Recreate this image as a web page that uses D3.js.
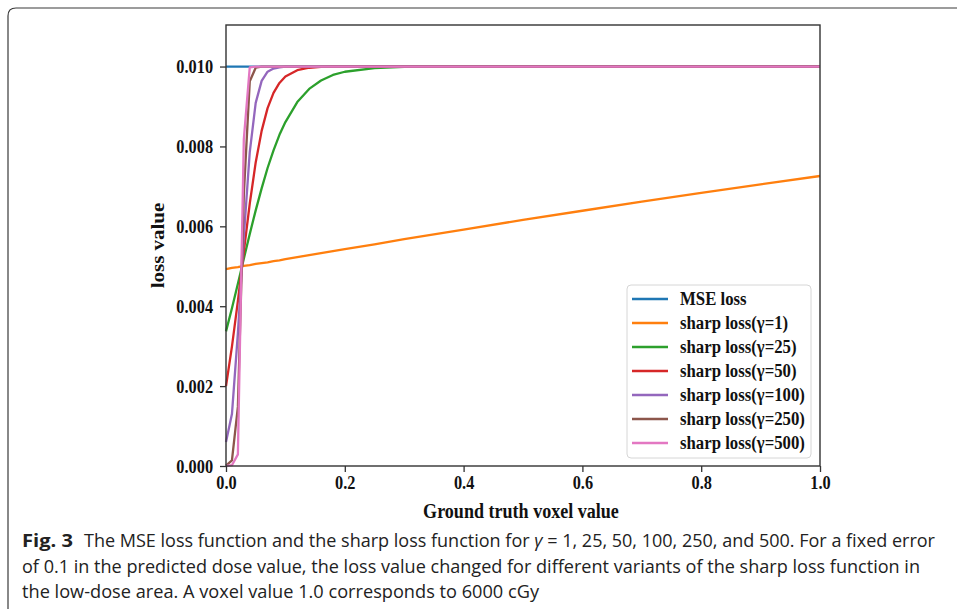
<!DOCTYPE html>
<html>
<head>
<meta charset="utf-8">
<script src="https://cdn.jsdelivr.net/npm/d3@7"></script>
<style>
  body { margin: 0; background: #fff; }
  svg { display: block; }
</style>
</head>
<body>
<div id="chart"></div>
<script>
// ground truth voxel value, shared by every series
const xGrid = [0, 0.01, 0.02, 0.03, 0.04, 0.05, 0.06, 0.07, 0.08, 0.09, 0.10,
  0.12, 0.14, 0.16, 0.18, 0.20, 0.25, 0.30, 0.40, 0.50, 0.60, 0.70, 0.80, 0.90, 1.00];

const mseLoss = [0.0100, 0.0100, 0.0100, 0.0100, 0.0100, 0.0100, 0.0100, 0.0100, 0.0100, 0.0100, 0.0100,
  0.0100, 0.0100, 0.0100, 0.0100, 0.0100, 0.0100, 0.0100, 0.0100, 0.0100, 0.0100, 0.0100, 0.0100, 0.0100, 0.0100];
const sharp1 = [0.00493, 0.00496, 0.00498, 0.00501, 0.00503, 0.00506, 0.00508, 0.00510, 0.00513, 0.00515, 0.00518,
  0.00523, 0.00528, 0.00533, 0.00538, 0.00543, 0.00555, 0.00568, 0.00592, 0.00616, 0.00639, 0.00662, 0.00684, 0.00705, 0.00726];
const sharp25 = [0.00337, 0.00395, 0.00456, 0.00519, 0.00581, 0.00640, 0.00695, 0.00746, 0.00790, 0.00829, 0.00861,
  0.00911, 0.00944, 0.00965, 0.00979, 0.00987, 0.00996, 0.00999, 0.0100, 0.0100, 0.0100, 0.0100, 0.0100, 0.0100, 0.0100];
const sharp50 = [0.00200, 0.00299, 0.00413, 0.00537, 0.00657, 0.00760, 0.00839, 0.00896, 0.00934, 0.00959, 0.00975,
  0.00991, 0.00997, 0.00999, 0.0100, 0.0100, 0.0100, 0.0100, 0.0100, 0.0100, 0.0100, 0.0100, 0.0100, 0.0100, 0.0100];
const sharp100 = [0.00060, 0.00130, 0.00332, 0.00574, 0.00786, 0.00909, 0.00964, 0.00987, 0.00995, 0.00998, 0.0100,
  0.0100, 0.0100, 0.0100, 0.0100, 0.0100, 0.0100, 0.0100, 0.0100, 0.0100, 0.0100, 0.0100, 0.0100, 0.0100, 0.0100];
const sharp250 = [0.00001, 0.00014, 0.00148, 0.00679, 0.00963, 0.00997, 0.0100, 0.0100, 0.0100, 0.0100, 0.0100,
  0.0100, 0.0100, 0.0100, 0.0100, 0.0100, 0.0100, 0.0100, 0.0100, 0.0100, 0.0100, 0.0100, 0.0100, 0.0100, 0.0100];
const sharp500 = [0.00000, 0.00002, 0.00029, 0.00818, 0.00998, 0.0100, 0.0100, 0.0100, 0.0100, 0.0100, 0.0100,
  0.0100, 0.0100, 0.0100, 0.0100, 0.0100, 0.0100, 0.0100, 0.0100, 0.0100, 0.0100, 0.0100, 0.0100, 0.0100, 0.0100];

const seriesNames = ["MSE loss", "sharp loss(γ=1)", "sharp loss(γ=25)", "sharp loss(γ=50)",
  "sharp loss(γ=100)", "sharp loss(γ=250)", "sharp loss(γ=500)"];
const seriesValues = [mseLoss, sharp1, sharp25, sharp50, sharp100, sharp250, sharp500];
const colors = ["#1f77b4", "#ff7f0e", "#2ca02c", "#d62728", "#9467bd", "#8c564b", "#e377c2"];

const xTicks = [0, 0.2, 0.4, 0.6, 0.8, 1.0];
const yTicks = [0, 0.002, 0.004, 0.006, 0.008, 0.010];

const captionLines = [
  "of 0.1 in the predicted dose value, the loss value changed for different variants of the sharp loss function in",
  "the low-dose area. A voxel value 1.0 corresponds to 6000 cGy"
];

const W = 957, H = 609;
const plot = { left: 226, right: 820, top: 25, bottom: 466 };
const serif = "'Liberation Serif', 'Times New Roman', serif";
const squeeze = 0.86;

const svg = d3.select("#chart").append("svg")
  .attr("width", W)
  .attr("height", H);

// outer figure frame (rounded corner top-left, runs off right and bottom)
svg.append("path")
  .attr("d", `M8,${H + 5} L8,16 Q8,8 16,8 L${W + 5},8`)
  .attr("fill", "none")
  .attr("stroke", "#3a3a3a")
  .attr("stroke-width", 1.2);

const x = d3.scaleLinear().domain([0, 1]).range([plot.left, plot.right]);
const y = d3.scaleLinear().domain([0, 0.01104]).range([plot.bottom, plot.top]);

const line = d3.line()
  .x((d, i) => x(xGrid[i]))
  .y((d) => y(d));

const lines = svg.append("g").attr("class", "lines");
lines.selectAll("path")
  .data(seriesValues)
  .enter().append("path")
  .attr("d", (d) => line(d))
  .attr("fill", "none")
  .attr("stroke", (d, i) => colors[i])
  .attr("stroke-width", 2.3)
  .attr("stroke-linejoin", "round");

// axes
const xAxis = svg.append("g")
  .attr("transform", `translate(0,${plot.bottom})`)
  .call(d3.axisBottom(x).tickValues(xTicks).tickFormat(d3.format(".1f")).tickSize(6).tickPadding(4));
const yAxis = svg.append("g")
  .attr("transform", `translate(${plot.left},0)`)
  .call(d3.axisLeft(y).tickValues(yTicks).tickFormat(d3.format(".3f")).tickSize(6).tickPadding(9));

[xAxis, yAxis].forEach((g) => {
  g.select(".domain").remove();
  g.selectAll(".tick line").attr("stroke", "#333").attr("stroke-width", 1.3);
  g.selectAll(".tick text")
    .attr("fill", "#111")
    .style("font-family", serif)
    .style("font-weight", "bold")
    .style("font-size", "19px");
});
xAxis.selectAll(".tick text").attr("transform", `scale(${squeeze},1)`)
  .attr("x", 0);
yAxis.selectAll(".tick text").attr("transform", `scale(${squeeze},1)`);

// plot frame
svg.append("rect")
  .attr("x", plot.left)
  .attr("y", plot.top)
  .attr("width", plot.right - plot.left)
  .attr("height", plot.bottom - plot.top)
  .attr("fill", "none")
  .attr("stroke", "#333")
  .attr("stroke-width", 1.4);

// axis titles
svg.append("text")
  .attr("transform", `translate(${(plot.left + plot.right) / 2 - 2},518) scale(${squeeze},1)`)
  .attr("text-anchor", "middle")
  .style("font-family", serif)
  .style("font-weight", "bold")
  .style("font-size", "21px")
  .attr("fill", "#111")
  .text("Ground truth voxel value");

svg.append("text")
  .attr("transform", `translate(164,${(plot.top + plot.bottom) / 2}) rotate(-90) scale(1,${squeeze})`)
  .attr("text-anchor", "middle")
  .style("font-family", serif)
  .style("font-weight", "bold")
  .style("font-size", "21px")
  .attr("fill", "#111")
  .text("loss value");

// legend
const legend = svg.append("g").attr("class", "legend");
legend.append("rect")
  .attr("x", 627)
  .attr("y", 285)
  .attr("width", 184)
  .attr("height", 173)
  .attr("rx", 4)
  .attr("fill", "#fff")
  .attr("fill-opacity", 0.85)
  .attr("stroke", "#d6d6d6")
  .attr("stroke-width", 1);

const items = legend.selectAll(".item")
  .data(seriesNames)
  .enter().append("g")
  .attr("class", "item")
  .attr("transform", (d, i) => `translate(632,${299 + i * 24})`);

items.append("line")
  .attr("x1", 0)
  .attr("x2", 36)
  .attr("stroke", (d, i) => colors[i])
  .attr("stroke-width", 2.3);

items.append("text")
  .attr("transform", `translate(48,6) scale(${squeeze},1)`)
  .style("font-family", serif)
  .style("font-weight", "bold")
  .style("font-size", "19.5px")
  .attr("fill", "#111")
  .text((d) => d);

// caption
const sans = "'Open Sans', 'Noto Sans', sans-serif";
svg.append("text")
  .attr("x", 22)
  .attr("y", 547)
  .attr("textLength", 51)
  .attr("lengthAdjust", "spacingAndGlyphs")
  .style("font-family", sans)
  .style("font-weight", "bold")
  .style("font-size", "18px")
  .attr("fill", "#222")
  .text("Fig. 3");

const cap1 = svg.append("text")
  .attr("x", 84)
  .attr("y", 547)
  .attr("textLength", 851)
  .attr("lengthAdjust", "spacingAndGlyphs")
  .style("font-family", sans)
  .style("font-size", "18px")
  .attr("fill", "#222");
cap1.append("tspan").text("The MSE loss function and the sharp loss function for ");
cap1.append("tspan").style("font-style", "italic").text("γ");
cap1.append("tspan").text(" = 1, 25, 50, 100, 250, and 500. For a fixed error");

svg.selectAll(".capline")
  .data(captionLines)
  .enter().append("text")
  .attr("class", "capline")
  .attr("x", 22)
  .attr("y", (d, i) => 572.5 + i * 25.5)
  .attr("textLength", (d, i) => i === 0 ? 898 : 517)
  .attr("lengthAdjust", "spacingAndGlyphs")
  .style("font-family", sans)
  .style("font-size", "18px")
  .attr("fill", "#222")
  .text((d) => d);
</script>
</body>
</html>
